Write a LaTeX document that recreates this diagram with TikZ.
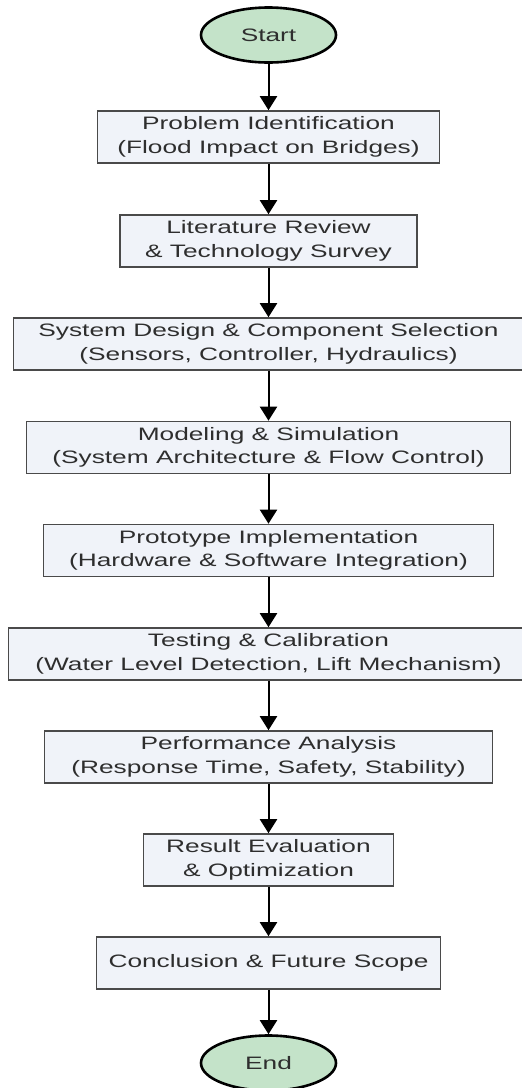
\documentclass[tikz,border=0pt]{standalone}
\usepackage{fontspec}
\setmainfont[FakeStretch=1.46]{Liberation Sans}
\usetikzlibrary{shapes.geometric,arrows.meta}
\definecolor{boxfill}{HTML}{F0F3F9}
\definecolor{boxline}{HTML}{4A4A4A}
\definecolor{txt}{HTML}{2E2E2E}
\definecolor{termfill}{HTML}{C4E3C9}
\tikzset{
  stepbox/.style={rectangle, draw=boxline, fill=boxfill, line width=1.6pt,
    minimum height=52pt, minimum width=#1, inner sep=0pt, align=center,
    text=txt, font=\fontsize{18}{23.5}\selectfont},
  stepboxii/.style={stepbox=#1, execute at begin node={\rule{0pt}{21pt}}},
  term/.style={ellipse, draw=black, fill=termfill, line width=2.6pt,
    minimum width=135pt, minimum height=55pt, inner sep=0pt,
    text=txt, font=\fontsize{18}{23.5}\selectfont},
  flow/.style={draw=black, line width=2pt, -{Triangle[width=17pt,length=14pt]}}
}
\begin{document}
\begin{tikzpicture}[x=1pt,y=-1pt]
\useasboundingbox[fill=white] (0,0) rectangle (522,1088);
\node[term] (start) at (268.5,35) {Start};
\node[stepboxii=342pt] (b1) at (268.5,137) {Problem Identification\\(Flood Impact on Bridges)};
\node[stepboxii=297pt] (b2) at (268.5,241) {Literature Review\\\& Technology Survey};
\node[stepboxii=510pt] (b3) at (268.5,344) {System Design \& Component Selection\\(Sensors, Controller, Hydraulics)};
\node[stepboxii=484pt] (b4) at (268.5,447.5) {Modeling \& Simulation\\(System Architecture \& Flow Control)};
\node[stepboxii=450pt] (b5) at (268.5,550.5) {Prototype Implementation\\(Hardware \& Software Integration)};
\node[stepboxii=520pt] (b6) at (268.5,654) {Testing \& Calibration\\(Water Level Detection, Lift Mechanism)};
\node[stepboxii=448pt] (b7) at (268.5,757) {Performance Analysis\\(Response Time, Safety, Stability)};
\node[stepboxii=250pt] (b8) at (268.5,860) {Result Evaluation\\\& Optimization};
\node[stepbox=344pt] (b9) at (268.5,963) {Conclusion \& Future Scope};
\node[term] (end) at (268.5,1063) {End};
\foreach \a/\b in {start/b1,b1/b2,b2/b3,b3/b4,b4/b5,b5/b6,b6/b7,b7/b8,b8/b9,b9/end}
  \draw[flow] (\a) -- (\b);
\end{tikzpicture}
\end{document}
